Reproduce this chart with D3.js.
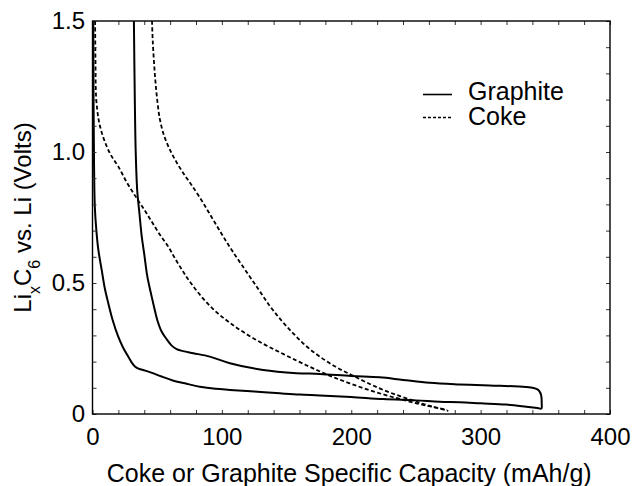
<!DOCTYPE html>
<html>
<head>
<meta charset="utf-8">
<script src="https://cdn.jsdelivr.net/npm/d3@7"></script>
<style>
  html, body { margin: 0; padding: 0; background: #fff; }
  svg { display: block; font-family: "Liberation Sans", Arial, Helvetica, sans-serif; }
</style>
</head>
<body>
<svg id="chart" width="632" height="486"></svg>
<script>
// Graphite: one continuous cycle (discharge branch out to ~347 mAh/g, then the charge branch back)
const graphiteCapacity = [0.6, 0.8, 1.2, 1.8, 3.0, 4.5, 7.1, 9.5, 12.2, 15.5, 19.9, 23.5, 27.6, 30.5, 32.8, 35.5, 39.2, 46, 53.4, 62, 71.4, 83, 95, 106.2, 125, 144.8, 160.2, 175.7, 200, 224.6, 250, 268.3, 283.8, 300, 319.9, 335.3, 344, 347,
  347.2, 347.0, 346.2, 344.5, 341, 335, 307, 283.8, 260.6, 240, 222, 200.2, 175.7, 157.7, 131.9, 106.2, 90.7, 78, 70, 65, 61, 57.7, 53.4, 50, 47.5, 45.2, 43.6, 42.2, 40, 38, 36.2, 34.6, 33.4, 32.7, 32];
const graphiteVolts = [1.5, 1.2, 0.95, 0.79, 0.70, 0.627, 0.55, 0.48, 0.423, 0.36, 0.295, 0.255, 0.219, 0.195, 0.181, 0.173, 0.168, 0.157, 0.143, 0.128, 0.117, 0.104, 0.096, 0.092, 0.086, 0.079, 0.074, 0.071, 0.065, 0.057, 0.052, 0.047, 0.045, 0.041, 0.036, 0.028, 0.023, 0.021,
  0.04, 0.065, 0.08, 0.092, 0.099, 0.103, 0.109, 0.113, 0.119, 0.13, 0.14, 0.145, 0.153, 0.156, 0.168, 0.194, 0.219, 0.232, 0.24, 0.248, 0.262, 0.283, 0.315, 0.36, 0.41, 0.46, 0.495, 0.53, 0.61, 0.68, 0.77, 0.85, 1.0, 1.2, 1.5];

// Coke, first (lower) curve
const cokeLowCapacity = [2, 2.3, 2.8, 4.5, 6.5, 9.5, 14, 19.9, 27, 34.1, 40, 45.7, 52, 58.5, 64, 70.1, 76, 85.6, 96, 106.2, 118, 131.9, 145, 157.7, 168, 178.2, 188, 198.8, 211, 224.6, 237.8, 250.3, 262, 274];
const cokeLowVolts = [1.5, 1.35, 1.21, 1.13, 1.085, 1.04, 0.99, 0.945, 0.88, 0.824, 0.78, 0.735, 0.685, 0.639, 0.592, 0.543, 0.5, 0.44, 0.388, 0.348, 0.308, 0.268, 0.235, 0.204, 0.18, 0.157, 0.137, 0.117, 0.096, 0.075, 0.057, 0.041, 0.028, 0.016];

// Coke, second (upper) curve
const cokeHighCapacity = [46, 46.6, 48.3, 50, 52.1, 55.5, 59.8, 64.5, 70.1, 76, 84, 92, 100, 108, 118, 128, 137.1, 146, 155.1, 165, 175.7, 188, 200.2, 212, 224.6, 237.8, 250.3, 262, 275];
const cokeHighVolts = [1.5, 1.42, 1.29, 1.2, 1.124, 1.06, 1.009, 0.965, 0.92, 0.878, 0.818, 0.752, 0.686, 0.623, 0.55, 0.478, 0.412, 0.357, 0.308, 0.26, 0.219, 0.18, 0.149, 0.12, 0.092, 0.068, 0.047, 0.029, 0.012];

const xTickLabels = [0, 100, 200, 300, 400];
const yTickLabels = [0, 0.5, 1.0, 1.5];
const legendNames = ["Graphite", "Coke"];

const svg = d3.select("#chart");
const plotLeft = 92.5, plotRight = 610, plotTop = 21, plotBottom = 414;

const x = d3.scaleLinear().domain([0, 400]).range([plotLeft, plotRight]);
const y = d3.scaleLinear().domain([0, 1.5]).range([plotBottom, plotTop]);

const zip = (a, b) => a.map((v, i) => [v, b[i]]);
const line = d3.line().x(d => x(d[0])).y(d => y(d[1])).curve(d3.curveCatmullRom.alpha(0.5));

// clip so the curves stay inside the frame
svg.append("clipPath").attr("id", "plot-clip")
  .append("rect").attr("x", plotLeft).attr("y", plotTop)
  .attr("width", plotRight - plotLeft).attr("height", plotBottom - plotTop);

const plot = svg.append("g").attr("clip-path", "url(#plot-clip)");

plot.append("path")
  .attr("d", line(zip(graphiteCapacity, graphiteVolts)))
  .attr("fill", "none").attr("stroke", "#000").attr("stroke-width", 2);

[[cokeLowCapacity, cokeLowVolts], [cokeHighCapacity, cokeHighVolts]].forEach(([c, v]) => {
  plot.append("path")
    .attr("d", line(zip(c, v)))
    .attr("fill", "none").attr("stroke", "#000").attr("stroke-width", 1.8)
    .attr("stroke-dasharray", "4,2.5");
});

// minor ticks on all four sides, pointing inward
const minorX = d3.range(0, 401, 20);
const minorY = d3.range(0, 1.501, 0.1);

const axB = svg.append("g").attr("transform", `translate(0,${plotBottom})`)
  .call(d3.axisBottom(x).tickValues(minorX).tickSize(-4).tickFormat(""));
const axT = svg.append("g").attr("transform", `translate(0,${plotTop})`)
  .call(d3.axisTop(x).tickValues(minorX).tickSize(-4).tickFormat(""));
const axL = svg.append("g").attr("transform", `translate(${plotLeft},0)`)
  .call(d3.axisLeft(y).tickValues(minorY).tickSize(-4).tickFormat(""));
const axR = svg.append("g").attr("transform", `translate(${plotRight},0)`)
  .call(d3.axisRight(y).tickValues(minorY).tickSize(-4).tickFormat(""));
[axB, axT, axL, axR].forEach(g => {
  g.select(".domain").remove();
  g.selectAll(".tick line").attr("stroke", "#333").attr("stroke-width", 1);
});

// labelled ticks
const labB = svg.append("g").attr("transform", `translate(0,${plotBottom})`)
  .call(d3.axisBottom(x).tickValues(xTickLabels).tickSize(0).tickPadding(14).tickFormat(d3.format("d")));
const labL = svg.append("g").attr("transform", `translate(${plotLeft},0)`)
  .call(d3.axisLeft(y).tickValues(yTickLabels).tickSize(0).tickPadding(7.5)
    .tickFormat(d => d === 0 ? "0" : d3.format(".1f")(d)));
[labB, labL].forEach(g => {
  g.select(".domain").remove();
  g.selectAll("text").attr("font-size", 24).attr("fill", "#000")
    .attr("font-family", "'Liberation Sans', Arial, sans-serif");
});

// frame
svg.append("rect")
  .attr("x", plotLeft).attr("y", plotTop)
  .attr("width", plotRight - plotLeft).attr("height", plotBottom - plotTop)
  .attr("fill", "none").attr("stroke", "#000").attr("stroke-width", 1.4);

// axis titles
svg.append("text")
  .attr("x", (plotLeft + plotRight) / 2 - 2).attr("y", 482)
  .attr("text-anchor", "middle").attr("font-size", 25).attr("fill", "#000")
  .text("Coke or Graphite Specific Capacity (mAh/g)");

const yTitle = svg.append("text")
  .attr("transform", "translate(31,217.5) rotate(-90)")
  .attr("text-anchor", "middle").attr("font-size", 24).attr("fill", "#000");
yTitle.append("tspan").text("Li");
yTitle.append("tspan").attr("font-size", 16).attr("dy", 9).text("x");
yTitle.append("tspan").attr("dy", -9).text("C");
yTitle.append("tspan").attr("font-size", 16).attr("dy", 9).text("6");
yTitle.append("tspan").attr("dy", -9).text(" vs. Li (Volts)");

// legend
const legend = svg.append("g");
legendNames.forEach((name, i) => {
  const ly = 94.5 + i * 23;
  legend.append("line")
    .attr("x1", 423).attr("x2", 452).attr("y1", ly).attr("y2", ly)
    .attr("stroke", "#000").attr("stroke-width", i === 0 ? 1.6 : 1.4)
    .attr("stroke-dasharray", i === 0 ? null : "3,2");
  legend.append("text")
    .attr("x", 468).attr("y", ly + 5 + i * 2.5)
    .attr("font-size", 25).attr("fill", "#000")
    .text(name);
});
</script>
</body>
</html>
